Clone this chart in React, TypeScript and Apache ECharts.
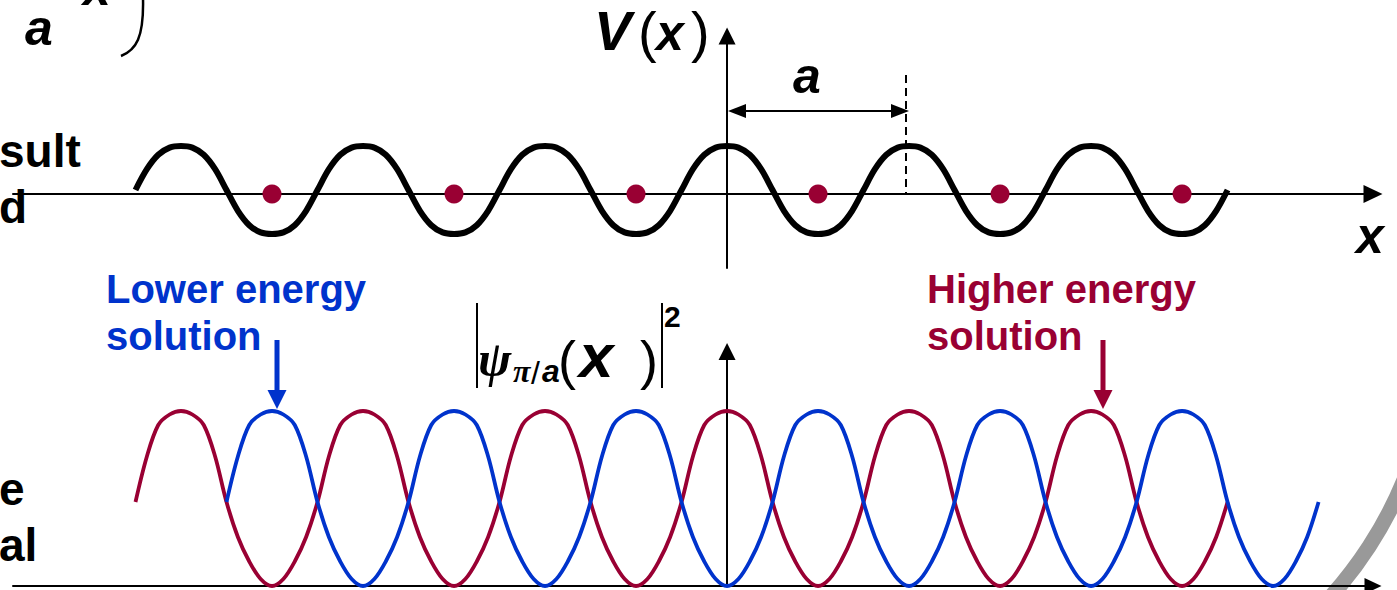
import React, { useEffect, useRef } from "react";
import * as echarts from "echarts";

// Lattice coordinate x is measured in units of the lattice constant a,
// sampled every a/16.
const sampleX = [
  -3.25, -3.1875, -3.125, -3.0625, -3, -2.9375, -2.875, -2.8125, -2.75, -2.6875, -2.625, -2.5625,
  -2.5, -2.4375, -2.375, -2.3125, -2.25, -2.1875, -2.125, -2.0625, -2, -1.9375, -1.875, -1.8125,
  -1.75, -1.6875, -1.625, -1.5625, -1.5, -1.4375, -1.375, -1.3125, -1.25, -1.1875, -1.125,
  -1.0625, -1, -0.9375, -0.875, -0.8125, -0.75, -0.6875, -0.625, -0.5625, -0.5, -0.4375, -0.375,
  -0.3125, -0.25, -0.1875, -0.125, -0.0625, 0, 0.0625, 0.125, 0.1875, 0.25, 0.3125, 0.375,
  0.4375, 0.5, 0.5625, 0.625, 0.6875, 0.75, 0.8125, 0.875, 0.9375, 1, 1.0625, 1.125, 1.1875,
  1.25, 1.3125, 1.375, 1.4375, 1.5, 1.5625, 1.625, 1.6875, 1.75, 1.8125, 1.875, 1.9375, 2,
  2.0625, 2.125, 2.1875, 2.25, 2.3125, 2.375, 2.4375, 2.5, 2.5625, 2.625, 2.6875, 2.75,
];

// Periodic potential V(x): maxima at the lattice points, minima at the ions.
const potentialV = [
  0.1, 0.62, 0.98, 1.16, 1.2, 1.16, 0.98, 0.62, 0.1, -0.42, -0.78, -0.96, -1, -0.96, -0.78, -0.42,
  0.1, 0.62, 0.98, 1.16, 1.2, 1.16, 0.98, 0.62, 0.1, -0.42, -0.78, -0.96, -1, -0.96, -0.78, -0.42,
  0.1, 0.62, 0.98, 1.16, 1.2, 1.16, 0.98, 0.62, 0.1, -0.42, -0.78, -0.96, -1, -0.96, -0.78, -0.42,
  0.1, 0.62, 0.98, 1.16, 1.2, 1.16, 0.98, 0.62, 0.1, -0.42, -0.78, -0.96, -1, -0.96, -0.78, -0.42,
  0.1, 0.62, 0.98, 1.16, 1.2, 1.16, 0.98, 0.62, 0.1, -0.42, -0.78, -0.96, -1, -0.96, -0.78, -0.42,
  0.1, 0.62, 0.98, 1.16, 1.2, 1.16, 0.98, 0.62, 0.1, -0.42, -0.78, -0.96, -1, -0.96, -0.78, -0.42,
  0.1,
];

// Ion cores sit in the potential minima.
const ionX = [-2.5, -1.5, -0.5, 0.5, 1.5, 2.5];

// Higher energy solution: density peaks between the ions (same x samples).
const highDensity = [
  0.48, 0.74, 0.92, 0.98, 1, 0.98, 0.92, 0.74, 0.48, 0.28, 0.14, 0.04, 0, 0.04, 0.14, 0.28,
  0.48, 0.74, 0.92, 0.98, 1, 0.98, 0.92, 0.74, 0.48, 0.28, 0.14, 0.04, 0, 0.04, 0.14, 0.28,
  0.48, 0.74, 0.92, 0.98, 1, 0.98, 0.92, 0.74, 0.48, 0.28, 0.14, 0.04, 0, 0.04, 0.14, 0.28,
  0.48, 0.74, 0.92, 0.98, 1, 0.98, 0.92, 0.74, 0.48, 0.28, 0.14, 0.04, 0, 0.04, 0.14, 0.28,
  0.48, 0.74, 0.92, 0.98, 1, 0.98, 0.92, 0.74, 0.48, 0.28, 0.14, 0.04, 0, 0.04, 0.14, 0.28,
  0.48, 0.74, 0.92, 0.98, 1, 0.98, 0.92, 0.74, 0.48, 0.28, 0.14, 0.04, 0, 0.04, 0.14, 0.28,
  0.48,
];

// Lower energy solution: density peaks on the ions.
const lowX = [
  -2.75, -2.6875, -2.625, -2.5625, -2.5, -2.4375, -2.375, -2.3125, -2.25, -2.1875, -2.125,
  -2.0625, -2, -1.9375, -1.875, -1.8125, -1.75, -1.6875, -1.625, -1.5625, -1.5, -1.4375, -1.375,
  -1.3125, -1.25, -1.1875, -1.125, -1.0625, -1, -0.9375, -0.875, -0.8125, -0.75, -0.6875, -0.625,
  -0.5625, -0.5, -0.4375, -0.375, -0.3125, -0.25, -0.1875, -0.125, -0.0625, 0, 0.0625, 0.125,
  0.1875, 0.25, 0.3125, 0.375, 0.4375, 0.5, 0.5625, 0.625, 0.6875, 0.75, 0.8125, 0.875, 0.9375,
  1, 1.0625, 1.125, 1.1875, 1.25, 1.3125, 1.375, 1.4375, 1.5, 1.5625, 1.625, 1.6875, 1.75,
  1.8125, 1.875, 1.9375, 2, 2.0625, 2.125, 2.1875, 2.25, 2.3125, 2.375, 2.4375, 2.5, 2.5625,
  2.625, 2.6875, 2.75, 2.8125, 2.875, 2.9375, 3, 3.0625, 3.125, 3.1875, 3.25,
];
const lowDensity = [
  0.48, 0.74, 0.92, 0.98, 1, 0.98, 0.92, 0.74, 0.48, 0.28, 0.14, 0.04, 0, 0.04, 0.14, 0.28,
  0.48, 0.74, 0.92, 0.98, 1, 0.98, 0.92, 0.74, 0.48, 0.28, 0.14, 0.04, 0, 0.04, 0.14, 0.28,
  0.48, 0.74, 0.92, 0.98, 1, 0.98, 0.92, 0.74, 0.48, 0.28, 0.14, 0.04, 0, 0.04, 0.14, 0.28,
  0.48, 0.74, 0.92, 0.98, 1, 0.98, 0.92, 0.74, 0.48, 0.28, 0.14, 0.04, 0, 0.04, 0.14, 0.28,
  0.48, 0.74, 0.92, 0.98, 1, 0.98, 0.92, 0.74, 0.48, 0.28, 0.14, 0.04, 0, 0.04, 0.14, 0.28,
  0.48, 0.74, 0.92, 0.98, 1, 0.98, 0.92, 0.74, 0.48, 0.28, 0.14, 0.04, 0, 0.04, 0.14, 0.28,
  0.48,
];

const RED = "#990033";
const BLUE = "#0033cc";
const SANS = '"Liberation Sans", Arial, sans-serif';
const SERIF = '"Liberation Serif", "Times New Roman", serif';

const X_MIN = -3.923;
const X_MAX = 3.549;
const SMOOTH = 0.33;

const zip = (xs: number[], ys: number[]) => xs.map((x, i) => [x, ys[i]]);

const txt = (
  text: string,
  x: number,
  y: number,
  font: string,
  fill = "#000",
  align: "left" | "center" | "right" = "left"
) => ({
  type: "text",
  x,
  y,
  silent: true,
  style: { text, font, fill, align, verticalAlign: "middle" },
});

const axisBase = (symbolSize: number[]) => ({
  type: "value",
  axisLine: {
    show: true,
    onZero: true,
    symbol: ["none", "triangle"],
    symbolSize,
    lineStyle: { color: "#000", width: 2 },
  },
  axisTick: { show: false },
  axisLabel: { show: false },
  splitLine: { show: false },
});

export default function App() {
  const ref = useRef<HTMLDivElement>(null);

  useEffect(() => {
    if (!ref.current) return;
    const chart = echarts.init(ref.current, undefined, { renderer: "svg" });

    const option = {
      animation: false,
      backgroundColor: "#fff",
      grid: [
        { left: 13, top: 36, width: 1360, height: 232 },
        { left: 13, top: 351.5, width: 1360, height: 234.5 },
      ],
      xAxis: [
        { ...axisBase([18, 19]), gridIndex: 0, min: X_MIN, max: X_MAX },
        { ...axisBase([16, 17]), gridIndex: 1, min: X_MIN, max: X_MAX },
      ],
      yAxis: [
        { ...axisBase([17, 17]), gridIndex: 0, min: -1.85, max: 3.95 },
        { ...axisBase([17, 17]), gridIndex: 1, min: 0, max: 1.34 },
      ],
      series: [
        {
          name: "V(x)",
          type: "line",
          xAxisIndex: 0,
          yAxisIndex: 0,
          data: zip(sampleX, potentialV),
          smooth: SMOOTH,
          showSymbol: false,
          silent: true,
          lineStyle: { color: "#000", width: 6 },
          z: 3,
        },
        {
          name: "ions",
          type: "scatter",
          xAxisIndex: 0,
          yAxisIndex: 0,
          data: ionX.map((x) => [x, 0]),
          symbolSize: 19,
          silent: true,
          itemStyle: { color: RED, opacity: 1 },
          z: 4,
        },
        {
          name: "Higher energy solution",
          type: "line",
          xAxisIndex: 1,
          yAxisIndex: 1,
          data: zip(sampleX, highDensity),
          smooth: SMOOTH,
          showSymbol: false,
          silent: true,
          lineStyle: { color: RED, width: 3.8 },
          z: 3,
        },
        {
          name: "Lower energy solution",
          type: "line",
          xAxisIndex: 1,
          yAxisIndex: 1,
          data: zip(lowX, lowDensity),
          smooth: SMOOTH,
          showSymbol: false,
          silent: true,
          lineStyle: { color: BLUE, width: 3.8 },
          z: 4,
        },
      ],
      graphic: [
        // decorative slide border
        {
          type: "arc",
          silent: true,
          z: -1,
          shape: { cx: 1032, cy: 327.5, r: 402, startAngle: 0.2, endAngle: 0.95 },
          style: { stroke: "#999", lineWidth: 15, fill: "none" },
        },
        // fragments of slide text at the left edge
        txt("sult", -1, 151, `bold 46px ${SANS}`),
        txt("d", -1, 207, `bold 46px ${SANS}`),
        txt("e", -1, 489, `bold 46px ${SANS}`),
        txt("al", -1, 545, `bold 46px ${SANS}`),
        txt("a", 25, 27.7, `italic bold 50px ${SANS}`),
        txt("x", 83, -12.3, `italic bold 50px ${SANS}`),
        {
          type: "bezierCurve",
          silent: true,
          shape: { x1: 143, y1: -2, x2: 121, y2: 56, cpx1: 144, cpy1: 38, cpx2: 136, cpy2: 50 },
          style: { stroke: "#000", lineWidth: 2.5, fill: "none" },
        },
        // V(x) axis title
        txt("V", 594, 30.6, `italic bold 56px ${SANS}`),
        txt("(", 638, 31, `56px ${SANS}`),
        txt("x", 656, 32.7, `italic bold 50px ${SANS}`),
        txt(")", 691, 31, `56px ${SANS}`),
        txt("x", 1370, 235.7, `italic bold 50px ${SANS}`, "#000", "center"),
        // lattice constant a
        txt("a", 807, 75.7, `italic bold 50px ${SANS}`, "#000", "center"),
        {
          type: "line",
          silent: true,
          shape: { x1: 744, y1: 111, x2: 893, y2: 111 },
          style: { stroke: "#000", lineWidth: 2 },
        },
        {
          type: "polygon",
          silent: true,
          shape: { points: [[728, 111], [746, 104], [746, 118]] },
          style: { fill: "#000" },
        },
        {
          type: "polygon",
          silent: true,
          shape: { points: [[909, 111], [891, 104], [891, 118]] },
          style: { fill: "#000" },
        },
        {
          type: "line",
          silent: true,
          shape: { x1: 906, y1: 75, x2: 906, y2: 193 },
          style: { stroke: "#000", lineWidth: 2, lineDash: [8, 5] },
        },
        // |psi_{pi/a}(x)|^2 axis title
        {
          type: "line",
          silent: true,
          shape: { x1: 477, y1: 303, x2: 477, y2: 388 },
          style: { stroke: "#000", lineWidth: 2 },
        },
        {
          type: "line",
          silent: true,
          shape: { x1: 662, y1: 303, x2: 662, y2: 388 },
          style: { stroke: "#000", lineWidth: 2 },
        },
        txt("ψ", 478, 358.5, `italic bold 50px ${SERIF}`),
        txt("π", 513, 371, `italic bold 32px ${SERIF}`),
        txt("/", 531, 373, `32px ${SANS}`),
        txt("a", 542, 371, `italic bold 32px ${SANS}`),
        txt("(", 558, 360.3, `54px ${SANS}`),
        txt("x", 579, 355.5, `italic bold 62px ${SANS}`),
        txt(")", 640, 360.3, `54px ${SANS}`),
        txt("2", 664, 316.5, `bold 30px ${SANS}`),
        // annotations
        txt("Lower energy", 106, 289.1, `bold 40px ${SANS}`, BLUE),
        txt("solution", 106, 336.1, `bold 40px ${SANS}`, BLUE),
        txt("Higher energy", 927, 289.1, `bold 40px ${SANS}`, RED),
        txt("solution", 927, 336.1, `bold 40px ${SANS}`, RED),
        {
          type: "line",
          silent: true,
          shape: { x1: 277, y1: 340, x2: 277, y2: 392 },
          style: { stroke: BLUE, lineWidth: 5 },
        },
        {
          type: "polygon",
          silent: true,
          shape: { points: [[267.5, 390], [286.5, 390], [277, 409]] },
          style: { fill: BLUE },
        },
        {
          type: "line",
          silent: true,
          shape: { x1: 1103, y1: 340, x2: 1103, y2: 392 },
          style: { stroke: RED, lineWidth: 5 },
        },
        {
          type: "polygon",
          silent: true,
          shape: { points: [[1093.5, 390], [1112.5, 390], [1103, 409]] },
          style: { fill: RED },
        },
      ],
    };

    chart.setOption(option as any);
    return () => chart.dispose();
  }, []);

  return (
    <div
      ref={ref}
      style={{ position: "fixed", left: 0, top: 0, width: 1397, height: 590, background: "#fff" }}
    />
  );
}
